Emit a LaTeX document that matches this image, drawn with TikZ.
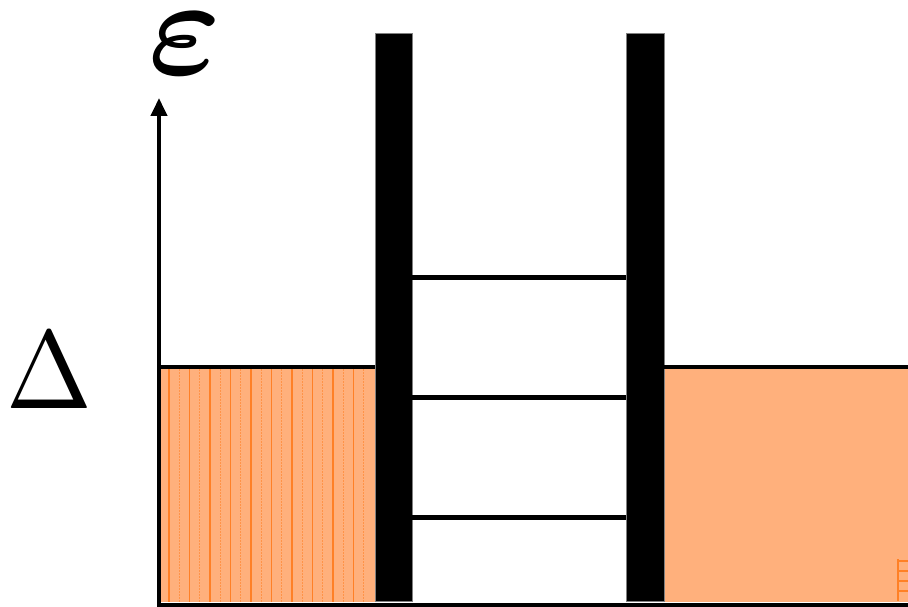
\documentclass[tikz,border=0pt]{standalone}
\usepackage{graphicx}
\usepackage{bm}
\usetikzlibrary{arrows.meta}
\definecolor{fillor}{HTML}{FFB07C}
\definecolor{lineor}{HTML}{FF8026}
\tikzset{
  barrier/.style={fill=black, draw=gray, line width=0.8},
  rung/.style={line width=5},
  edge/.style={line width=4},
  hatch/.style={lineor, line width=1.2},
}
\begin{document}
\begin{tikzpicture}[x=1pt,y=-1pt]
\useasboundingbox (0,0) rectangle (908,607);
% orange regions
\fill[fillor] (161,369) rectangle (375,602);
\fill[fillor] (664,369) rectangle (908,602);
\foreach \k in {0,...,19}{
  \pgfmathsetmacro{\xx}{169+10.25*\k}
  \ifodd\k
    \draw[hatch, opacity=0.6, dash pattern=on 2pt off 1pt] (\xx,369) -- (\xx,602);
  \else
    \draw[hatch] (\xx,369) -- (\xx,602);
  \fi
}
% small artifact bottom right
\draw[hatch] (898,559) -- (898,601);
\foreach \yy in {561,571,581,591}{ \draw[hatch] (898,\yy) -- (908,\yy); }
% barriers
\draw[barrier] (375,33) rectangle (412,601);
\draw[barrier] (626,33) rectangle (664,601);
% rungs
\foreach \yy in {277,397,517}{ \draw[rung] (412,\yy) -- (626,\yy); }
% band edges
\draw[edge] (157,367) -- (375,367);
\draw[edge] (664,367) -- (908,367);
% axes
\draw[edge] (157,605) -- (908,605);
\draw[line width=4, -{Triangle[length=18,width=16]}] (159,607) -- (159,98);
% labels
\node[inner sep=0, anchor=center] (eps) at (185,44) {\scalebox{13.8}{$\bm{\varepsilon}$}};
\node[inner sep=0, anchor=center] (delta) at (49,371) {\scalebox{10.3}[11.1]{$\Delta$}};
\end{tikzpicture}
\end{document}
